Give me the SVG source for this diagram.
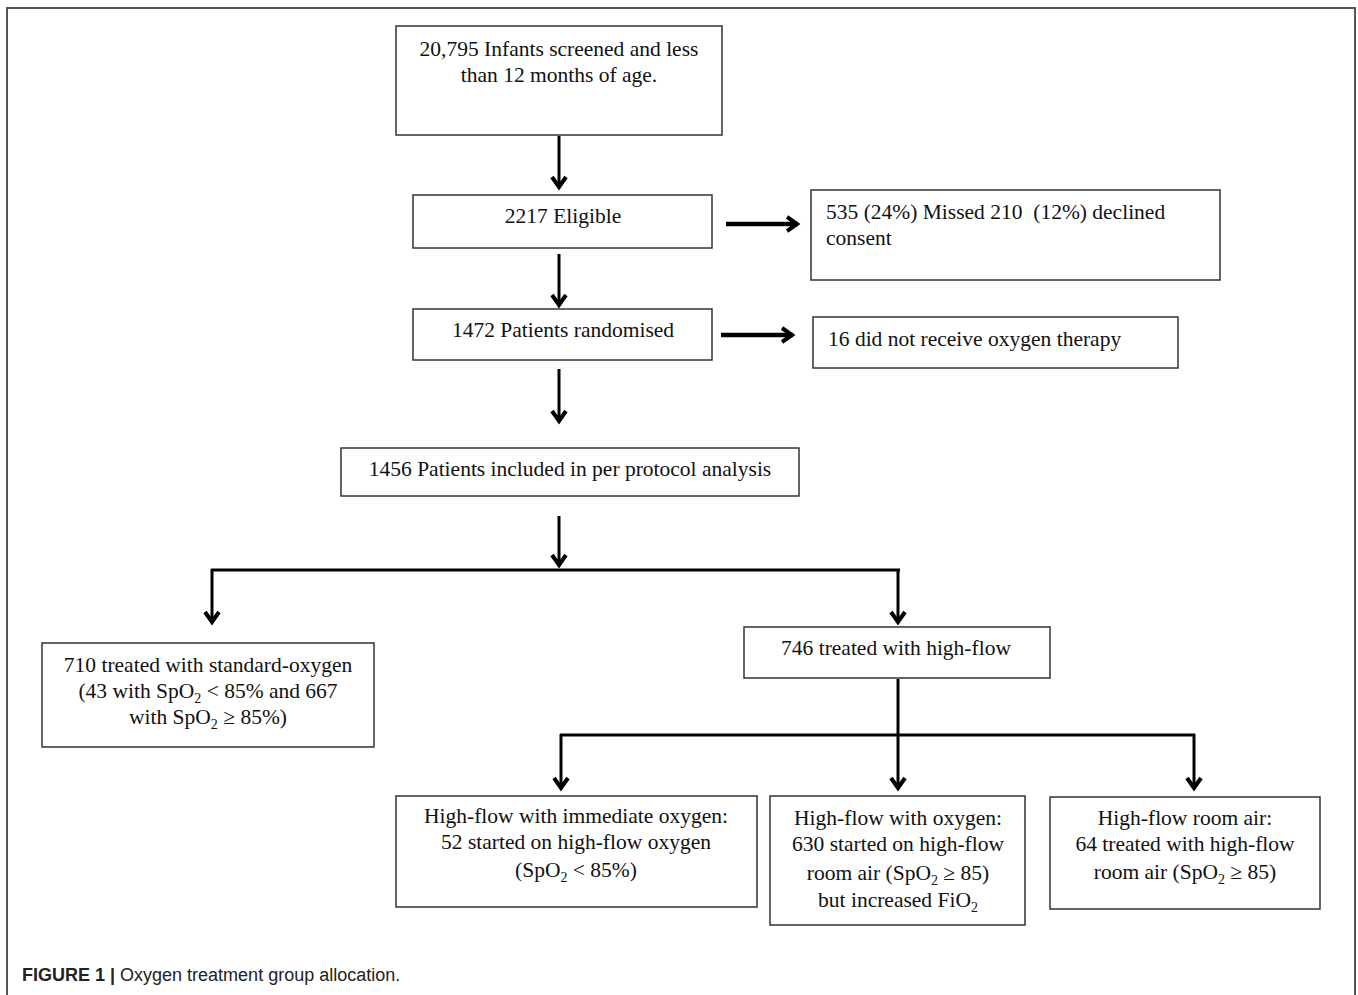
<svg xmlns="http://www.w3.org/2000/svg" width="1358" height="995" viewBox="0 0 1358 995">
<style>
.box{fill:#fff;stroke:#333;stroke-width:1.5}
.t{font-family:"Liberation Serif","Times New Roman",serif;font-size:21.5px;fill:#111}
.c{text-anchor:middle}
.ln{stroke:#000;stroke-width:3;fill:none}
.hl{stroke:#000;stroke-width:4.5;fill:none}
.cap{font-family:"Liberation Sans",Arial,sans-serif;font-size:18px;fill:#222}
.sub{font-size:14px}
</style>
<defs>
<marker id="ah" markerUnits="userSpaceOnUse" markerWidth="20" markerHeight="20" viewBox="0 0 20 20" refX="16" refY="10" orient="auto">
<path d="M5,3 L15,10 L5,17" fill="none" stroke="#000" stroke-width="4" stroke-linejoin="miter"/>
</marker>
</defs>
<rect width="1358" height="995" fill="#fff"/>
<g id="frame">
<path d="M7,995 V8 H1355 V995" fill="none" stroke="#555" stroke-width="2"/>
</g>
<g id="connectors">
<line class="ln" x1="559" y1="136" x2="559" y2="188" marker-end="url(#ah)"/>
<line class="hl" x1="726" y1="224" x2="798" y2="224" marker-end="url(#ah)"/>
<line class="ln" x1="559" y1="254" x2="559" y2="306" marker-end="url(#ah)"/>
<line class="hl" x1="721" y1="335" x2="793" y2="335" marker-end="url(#ah)"/>
<line class="ln" x1="559" y1="369" x2="559" y2="422" marker-end="url(#ah)"/>
<line class="ln" x1="559" y1="516" x2="559" y2="566" marker-end="url(#ah)"/>
<line class="ln" x1="211" y1="570" x2="900" y2="570"/>
<line class="ln" x1="212" y1="569" x2="212" y2="623" marker-end="url(#ah)"/>
<line class="ln" x1="898" y1="569" x2="898" y2="623" marker-end="url(#ah)"/>
<line class="ln" x1="898" y1="679" x2="898" y2="789" marker-end="url(#ah)"/>
<line class="ln" x1="560" y1="735" x2="1195" y2="735"/>
<line class="ln" x1="561" y1="734" x2="561" y2="789" marker-end="url(#ah)"/>
<line class="ln" x1="1194" y1="734" x2="1194" y2="789" marker-end="url(#ah)"/>
</g>
<g id="n1">
<rect class="box" x="396" y="26" width="326" height="109"/>
<text class="t c" x="559" y="56">20,795 Infants screened and less</text>
<text class="t c" x="559" y="82">than 12 months of age.</text>
</g>
<g id="n2">
<rect class="box" x="413" y="195" width="299" height="53"/>
<text class="t c" x="563" y="223">2217 Eligible</text>
</g>
<g id="n3">
<rect class="box" x="811" y="190" width="409" height="90"/>
<text class="t" x="826" y="219">535 (24%) Missed 210&#160; (12%) declined</text>
<text class="t" x="826" y="245">consent</text>
</g>
<g id="n4">
<rect class="box" x="413" y="309" width="299" height="51"/>
<text class="t c" x="563" y="337">1472 Patients randomised</text>
</g>
<g id="n5">
<rect class="box" x="813" y="317" width="365" height="51"/>
<text class="t" x="828" y="346">16 did not receive oxygen therapy</text>
</g>
<g id="n6">
<rect class="box" x="341" y="448" width="458" height="48"/>
<text class="t c" x="570" y="476">1456 Patients included in per protocol analysis</text>
</g>
<g id="n7">
<rect class="box" x="42" y="643" width="332" height="104"/>
<text class="t c" x="208" y="672">710 treated with standard-oxygen</text>
<text class="t c" x="208" y="698">(43 with SpO<tspan class="sub" dy="5">2</tspan><tspan dy="-5"> &lt; 85% and 667</tspan></text>
<text class="t c" x="208" y="724">with SpO<tspan class="sub" dy="5">2</tspan><tspan dy="-5"> ≥ 85%)</tspan></text>
</g>
<g id="n8">
<rect class="box" x="744" y="627" width="306" height="51"/>
<text class="t c" x="896" y="655">746 treated with high-flow</text>
</g>
<g id="n9">
<rect class="box" x="396" y="796" width="361" height="111"/>
<text class="t c" x="576" y="823">High-flow with immediate oxygen:</text>
<text class="t c" x="576" y="849">52 started on high-flow oxygen</text>
<text class="t c" x="576" y="877">(SpO<tspan class="sub" dy="5">2</tspan><tspan dy="-5"> &lt; 85%)</tspan></text>
</g>
<g id="n10">
<rect class="box" x="770" y="796" width="255" height="129"/>
<text class="t c" x="898" y="825">High-flow with oxygen:</text>
<text class="t c" x="898" y="851">630 started on high-flow</text>
<text class="t c" x="898" y="880">room air (SpO<tspan class="sub" dy="5">2</tspan><tspan dy="-5"> ≥ 85)</tspan></text>
<text class="t c" x="898" y="907">but increased FiO<tspan class="sub" dy="5">2</tspan></text>
</g>
<g id="n11">
<rect class="box" x="1050" y="797" width="270" height="112"/>
<text class="t c" x="1185" y="825">High-flow room air:</text>
<text class="t c" x="1185" y="851">64 treated with high-flow</text>
<text class="t c" x="1185" y="879">room air (SpO<tspan class="sub" dy="5">2</tspan><tspan dy="-5"> ≥ 85)</tspan></text>
</g>
<g id="caption">
<text class="cap" x="22" y="981"><tspan font-weight="bold">FIGURE 1 |</tspan> Oxygen treatment group allocation.</text>
</g>
</svg>
